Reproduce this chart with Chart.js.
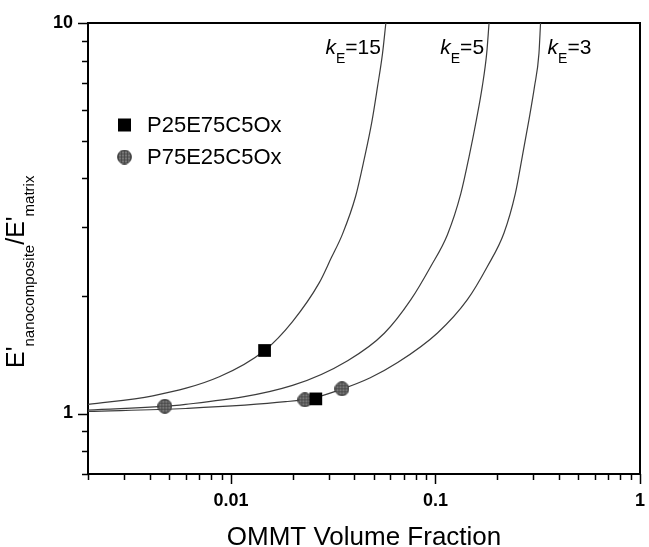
<!DOCTYPE html>
<html>
<head>
<meta charset="utf-8">
<script src="https://cdn.jsdelivr.net/npm/chart.js@4.4.1/dist/chart.umd.min.js"></script>
<style>
  html, body { margin: 0; padding: 0; background: #fff; }
  #wrap { width: 649px; height: 547px; position: relative; }
</style>
</head>
<body>
<div id="wrap"><canvas id="c" width="649" height="547"></canvas></div>
<script>
// Model curves: E'nanocomposite/E'matrix against OMMT volume fraction, one per Einstein coefficient k_E
const curveKE = ['15', '5', '3'];
const phiK15   = [0.002, 0.00415, 0.00877, 0.0146, 0.02, 0.027, 0.0309, 0.0351, 0.0407, 0.0449, 0.0489, 0.0521, 0.0551, 0.0572];
const ratioK15 = [1.055, 1.11, 1.242, 1.45, 1.72, 2.16, 2.5, 2.88, 3.6, 4.5, 5.6, 6.88, 8.36, 10];
const phiK5    = [0.002, 0.006, 0.02, 0.0372, 0.0562, 0.0758, 0.0948, 0.1144, 0.1329, 0.146, 0.1585, 0.1694, 0.178, 0.1828];
const ratioK5  = [1.02, 1.055, 1.18, 1.365, 1.605, 1.957, 2.38, 2.87, 3.65, 4.55, 5.65, 6.88, 8.36, 10];
const phiK3    = [0.002, 0.006, 0.0185, 0.026, 0.0349, 0.048, 0.0653, 0.1023, 0.1432, 0.1794, 0.2163, 0.2455, 0.2657, 0.2864, 0.305, 0.3206, 0.3264];
const ratioK3  = [1.012, 1.03, 1.072, 1.10, 1.155, 1.235, 1.35, 1.608, 1.957, 2.38, 2.9, 3.65, 4.55, 5.65, 6.88, 8.36, 10];

// Measured samples
const sampleNames = ['P25E75C5Ox', 'P75E25C5Ox'];
const phiP25   = [0.0146, 0.026];
const ratioP25 = [1.45, 1.09];
const phiP75   = [0.00475, 0.023, 0.0349];
const ratioP75 = [1.044, 1.084, 1.157];

// Axis ticks (decades are labelled)
const xTickValues = [0.002, 0.003, 0.004, 0.005, 0.006, 0.007, 0.008, 0.009, 0.01,
                     0.02, 0.03, 0.04, 0.05, 0.06, 0.07, 0.08, 0.09, 0.1,
                     0.2, 0.3, 0.4, 0.5, 0.6, 0.7, 0.8, 0.9, 1];
const xMajorTicks = [0.01, 0.1, 1];
const yTickValues = [0.7, 0.8, 0.9, 1, 2, 3, 4, 5, 6, 7, 8, 9, 10];
const yMajorTicks = [1, 10];

const xTitle = 'OMMT Volume Fraction';
const FONT = '"Liberation Sans", Arial, Helvetica, sans-serif';

const zip = (xs, ys) => xs.map((x, i) => ({ x: x, y: ys[i] }));

// Hatched grey disc used as the marker of the second sample series
function makeHatchedDisc(d) {
  const cv = document.createElement('canvas');
  cv.width = d; cv.height = d;
  const g = cv.getContext('2d');
  const r = d / 2 - 0.6;
  g.beginPath(); g.arc(d / 2, d / 2, r, 0, Math.PI * 2);
  g.fillStyle = '#777'; g.fill();
  g.save(); g.clip();
  g.strokeStyle = '#3e3e3e'; g.lineWidth = 0.7;
  for (let p = 1.5; p < d; p += 3) {
    g.beginPath(); g.moveTo(p, 0); g.lineTo(p, d); g.stroke();
    g.beginPath(); g.moveTo(0, p); g.lineTo(d, p); g.stroke();
  }
  g.restore();
  g.beginPath(); g.arc(d / 2, d / 2, r, 0, Math.PI * 2);
  g.strokeStyle = '#3a3a3a'; g.lineWidth = 1; g.stroke();
  return cv;
}
const disc = makeHatchedDisc(15);

const curveStyle = {
  showLine: true, pointRadius: 0, pointHoverRadius: 0,
  borderColor: '#3c3c3c', borderWidth: 1.2,
  cubicInterpolationMode: 'monotone', fill: false, order: 2
};

const datasets = [
  { label: sampleNames[0], data: zip(phiP25, ratioP25), showLine: false,
    pointStyle: 'rect', pointRadius: 9, backgroundColor: '#000', borderColor: '#000', borderWidth: 0, order: 0 },
  { label: sampleNames[1], data: zip(phiP75, ratioP75), showLine: false,
    pointStyle: disc, pointRadius: 7.5, order: 0 },
  Object.assign({ label: 'kE=' + curveKE[0], data: zip(phiK15, ratioK15) }, curveStyle),
  Object.assign({ label: 'kE=' + curveKE[1], data: zip(phiK5, ratioK5) }, curveStyle),
  Object.assign({ label: 'kE=' + curveKE[2], data: zip(phiK3, ratioK3) }, curveStyle)
];

// Frame, tick marks, titles, legend and curve annotations
const decor = {
  id: 'decor',
  beforeDatasetsDraw(chart) {
    const { ctx, chartArea: a, scales } = chart;
    ctx.save();
    ctx.strokeStyle = '#000';
    ctx.lineWidth = 1.5;
    scales.x.ticks.forEach(t => {
      const px = Math.round(scales.x.getPixelForValue(t.value)) + 0.5;
      const len = xMajorTicks.includes(t.value) ? 10 : 6;
      ctx.beginPath(); ctx.moveTo(px, a.bottom); ctx.lineTo(px, a.bottom + len); ctx.stroke();
    });
    scales.y.ticks.forEach(t => {
      const py = Math.round(scales.y.getPixelForValue(t.value)) + 0.5;
      const len = yMajorTicks.includes(t.value) ? 10 : 6;
      ctx.beginPath(); ctx.moveTo(a.left, py); ctx.lineTo(a.left - len, py); ctx.stroke();
    });
    ctx.lineWidth = 2;
    ctx.strokeRect(a.left, a.top, a.right - a.left, a.bottom - a.top);
    ctx.restore();
  },
  afterDraw(chart) {
    const { ctx, chartArea: a, scales } = chart;
    ctx.save();
    ctx.fillStyle = '#000';

    // x title
    ctx.font = '26px ' + FONT;
    ctx.textAlign = 'center';
    ctx.textBaseline = 'alphabetic';
    ctx.fillText(xTitle, (a.left + a.right) / 2, 545);

    // y title with subscripts, reading upwards
    ctx.save();
    ctx.translate(24, 368);
    ctx.rotate(-Math.PI / 2);
    ctx.textAlign = 'left';
    const parts = [['E\'', 25, 0], ['nanocomposite', 15, 10], ['/E\'', 25, 0], ['matrix', 15, 10]];
    let cx = 0;
    parts.forEach(([s, size, dy]) => {
      ctx.font = size + 'px ' + FONT;
      ctx.fillText(s, cx, dy);
      cx += ctx.measureText(s).width;
    });
    ctx.restore();

    // legend
    const lx = 124.5, rows = [125, 157];
    ctx.font = '22px ' + FONT;
    ctx.textAlign = 'left';
    ctx.textBaseline = 'middle';
    ctx.fillRect(lx - 6.5, rows[0] - 6.5, 13, 13);
    ctx.drawImage(disc, lx - 7.5, rows[1] - 7.5);
    ctx.fillText(sampleNames[0], 147, rows[0] + 1);
    ctx.fillText(sampleNames[1], 147, rows[1] + 1);

    // k_E labels next to the top ends of the curves
    const ends = [phiK15[phiK15.length - 1], phiK5[phiK5.length - 1], phiK3[phiK3.length - 1]];
    const sides = [-1, -1, 1];
    ctx.textBaseline = 'alphabetic';
    curveKE.forEach((k, i) => {
      const px = scales.x.getPixelForValue(ends[i]);
      const kFont = 'italic 21px ' + FONT, sFont = '14px ' + FONT, nFont = '21px ' + FONT;
      ctx.font = kFont; const wk = ctx.measureText('k').width;
      ctx.font = sFont; const ws = ctx.measureText('E').width;
      ctx.font = nFont; const wn = ctx.measureText('=' + k).width;
      const total = wk + ws + wn;
      let x0 = sides[i] < 0 ? px - 5 - total : px + 7;
      const base = 54;
      ctx.font = kFont; ctx.fillText('k', x0, base); x0 += wk;
      ctx.font = sFont; ctx.fillText('E', x0, base + 9); x0 += ws;
      ctx.font = nFont; ctx.fillText('=' + k, x0, base);
    });
    ctx.restore();
  }
};

new Chart(document.getElementById('c'), {
  type: 'scatter',
  data: { datasets: datasets },
  options: {
    responsive: false,
    animation: false,
    devicePixelRatio: 1,
    layout: { padding: { top: 23, right: 5, left: 0, bottom: 0 } },
    plugins: { legend: { display: false }, tooltip: { enabled: false }, title: { display: false } },
    scales: {
      x: {
        type: 'logarithmic', min: 0.002, max: 1,
        afterBuildTicks: s => { s.ticks = xTickValues.map(v => ({ value: v, major: xMajorTicks.includes(v) })); },
        afterFit: s => { s.height = 73; s.paddingRight = 0; s.paddingLeft = 0; },
        grid: { display: false, drawTicks: false },
        border: { display: false },
        ticks: {
          autoSkip: false, maxRotation: 0, minRotation: 0, padding: 16, color: '#000',
          font: { family: FONT, size: 18, weight: 'bold' },
          callback: v => xMajorTicks.includes(v) ? String(v) : ''
        }
      },
      y: {
        type: 'logarithmic', min: 0.7, max: 10,
        afterBuildTicks: s => { s.ticks = yTickValues.map(v => ({ value: v, major: yMajorTicks.includes(v) })); },
        afterFit: s => { s.width = 88; s.paddingTop = 0; s.paddingBottom = 0; },
        grid: { display: false, drawTicks: false },
        border: { display: false },
        ticks: {
          autoSkip: false, padding: 15, color: '#000',
          font: { family: FONT, size: 18, weight: 'bold' },
          callback: v => yMajorTicks.includes(v) ? String(v) : ''
        }
      }
    }
  },
  plugins: [decor]
});
</script>
</body>
</html>
